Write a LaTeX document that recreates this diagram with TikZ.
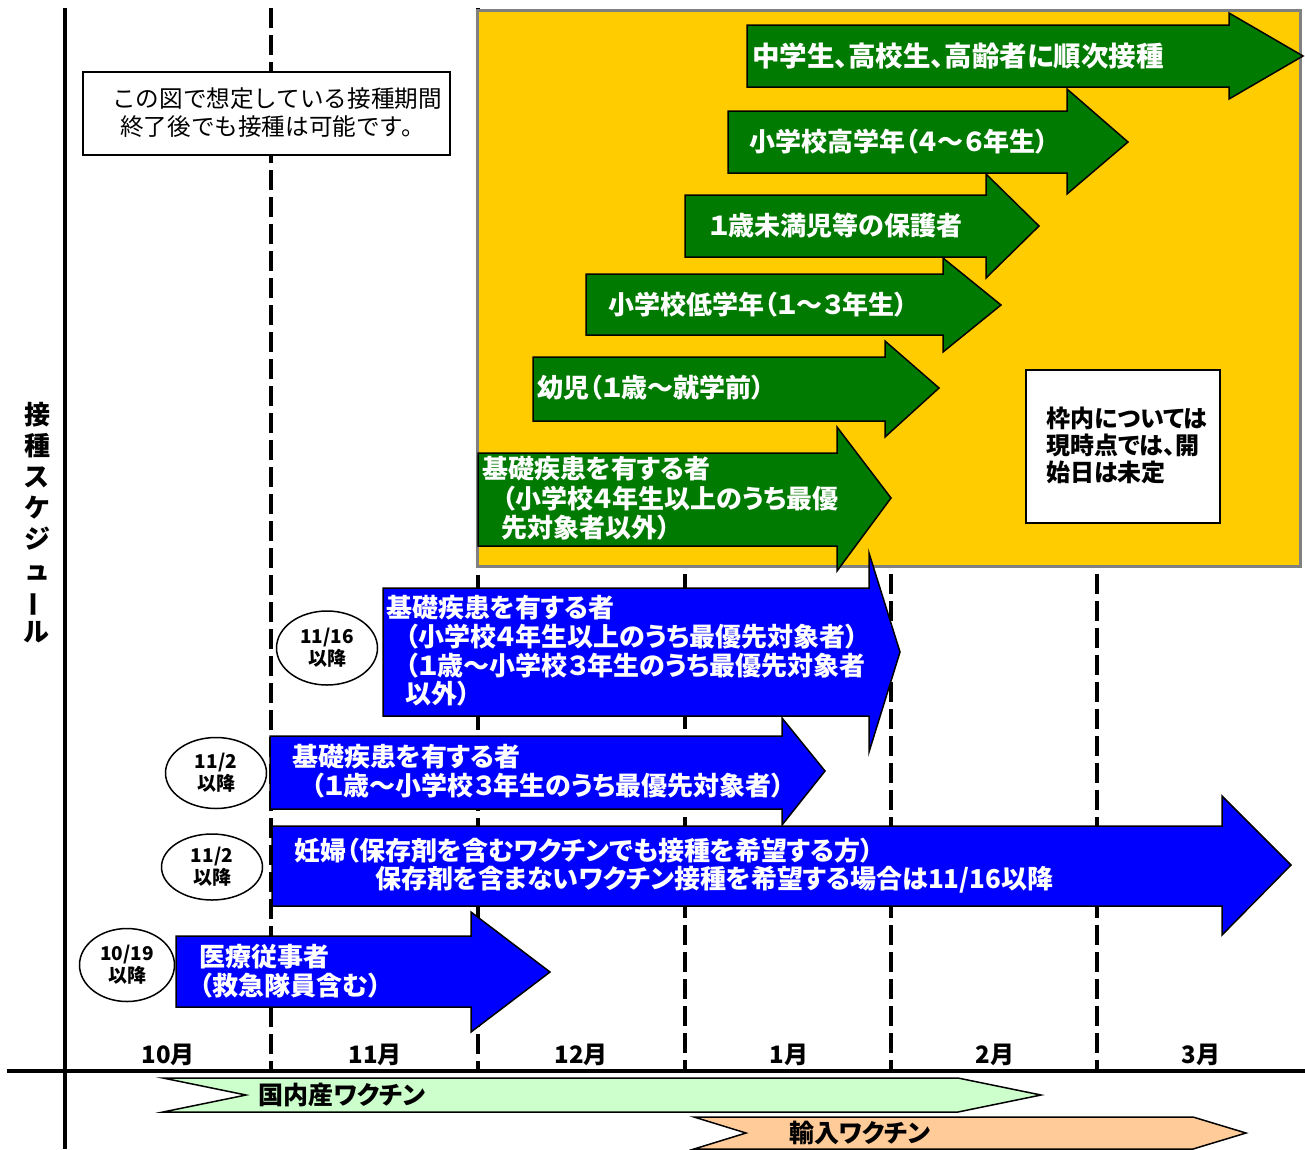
\documentclass[tikz,border=0pt]{standalone}
\usepackage{fontspec}
\usetikzlibrary{shapes.geometric}
\newfontfamily\jp[RawFeature=+palt]{Noto Sans CJK JP}
\newfontfamily\jpm{Noto Sans CJK JP}
\definecolor{agreen}{RGB}{0,122,0}
\definecolor{ablue}{RGB}{0,0,255}
\definecolor{ayellow}{RGB}{255,204,0}
\definecolor{lgreen}{RGB}{204,255,204}
\definecolor{lorange}{RGB}{255,204,153}
\definecolor{bordergray}{RGB}{128,128,128}
\tikzset{
  garrow/.style={fill=agreen, draw=black, line width=1.5pt},
  barrow/.style={fill=ablue, draw=black, line width=1.5pt},
  wtxt/.style={text=white, font=\jp\bfseries\fontsize{26}{30}\selectfont, anchor=west, inner sep=0pt},
  ktxt/.style={text=black, font=\jp\bfseries\fontsize{24}{28}\selectfont, anchor=west, inner sep=0pt},
  month/.style={text=black, font=\jp\bfseries\fontsize{24}{28}\selectfont, inner sep=0pt},
  datebub/.style={ellipse, draw=black, fill=white, line width=1.5pt, inner sep=0pt, align=center,
     font=\jp\bfseries\fontsize{19}{22}\selectfont},
  vline/.style={line width=4pt, dash pattern=on 20pt off 7pt},
  axis/.style={line width=4pt},
  banner/.style={draw=black, line width=1.5pt},
}
\begin{document}
\begin{tikzpicture}[x=1pt,y=-1pt]
\useasboundingbox (0,0) rectangle (1305,1149);
% axes
\coordinate (vtop) at (65,8);
\coordinate (vbot) at (65,1149);
\coordinate (hl) at (7,1071);
\coordinate (hr) at (1305,1071);
\draw[axis] (vtop) -- (vbot);
\draw[axis] (hl) -- (hr);
% dashed month separators
\foreach \n/\x/\yt in {a/271/8, b/478/8, c/685/574, d/891/574, e/1097/574}{
  \coordinate (d\n t) at (\x,\yt);
  \coordinate (d\n b) at (\x,1071);
  \draw[vline] (d\n t) -- (d\n b);
}
% yellow frame
\draw[fill=ayellow, draw=bordergray, line width=3pt] (477,10) rectangle (1300,566);
% note box
\node[draw=black, fill=white, line width=1.2pt, minimum width=367pt, minimum height=83pt, inner sep=0pt] (note) at (266.5,113.5) {};
\node[anchor=west, inner sep=0pt, font=\jpm\fontsize{23.6}{28}\selectfont] (note1) at (112,99) {この図で想定している接種期間};
\node[anchor=west, inner sep=0pt, font=\jpm\fontsize{23.6}{28}\selectfont] (note2) at (120,127) {終了後でも接種は可能です。};
% green arrows
\draw[garrow] (747,25) -- (1229,25) -- (1229,13) -- (1303,56) -- (1229,99) -- (1229,87) -- (747,87) -- cycle;
\draw[garrow] (728,111) -- (1067,111) -- (1067,89) -- (1128,142) -- (1067,194) -- (1067,173) -- (728,173) -- cycle;
\draw[garrow] (685,195) -- (986,195) -- (986,174) -- (1039,226) -- (986,278) -- (986,257) -- (685,257) -- cycle;
\draw[garrow] (586,274) -- (943,274) -- (943,258) -- (1001,305) -- (943,352) -- (943,335) -- (586,335) -- cycle;
\draw[garrow] (533,357) -- (885,357) -- (885,341) -- (939,388) -- (885,437) -- (885,421) -- (533,421) -- cycle;
\draw[garrow] (478,453) -- (837,453) -- (837,427) -- (891,498) -- (837,571) -- (837,546) -- (478,546) -- cycle;
\node[wtxt, font=\jp\bfseries\fontsize{27.5}{30}\selectfont] (g1) at (752,56) {中学生、高校生、高齢者に順次接種};
\node[wtxt] (g2) at (749,142) {小学校高学年（４～６年生）};
\node[wtxt] (g3) at (709,226) {１歳未満児等の保護者};
\node[wtxt] (g4) at (608,305) {小学校低学年（１～３年生）};
\node[wtxt] (g5) at (537,388) {幼児（１歳～就学前）};
\node[wtxt] (g6a) at (482,469) {基礎疾患を有する者};
\node[wtxt] (g6b) at (502,499) {（小学校４年生以上のうち最優};
\node[wtxt] (g6c) at (501,528) {先対象者以外）};
% undecided note
\node[draw=black, fill=white, line width=1.2pt, minimum width=194pt, minimum height=153pt, inner sep=0pt] (undec) at (1123,446.5) {};
\node[ktxt] (u1) at (1046,418) {枠内については};
\node[ktxt] (u2) at (1046,445) {現時点では、開};
\node[ktxt] (u3) at (1046,472) {始日は未定};
% blue arrows
\draw[barrow] (383,588) -- (869,588) -- (869,553) -- (900,652) -- (869,752) -- (869,716) -- (383,716) -- cycle;
\draw[barrow] (270,736) -- (782,736) -- (782,718) -- (825,771) -- (782,825) -- (782,809) -- (270,809) -- cycle;
\draw[barrow] (272,826) -- (1222,826) -- (1222,796) -- (1291,865) -- (1222,935) -- (1222,906) -- (272,906) -- cycle;
\draw[barrow] (176,936) -- (471,936) -- (471,912) -- (550,972) -- (471,1032) -- (471,1007) -- (176,1007) -- cycle;
\node[wtxt] (b1a) at (386,608) {基礎疾患を有する者};
\node[wtxt] (b1b) at (405,637) {（小学校４年生以上のうち最優先対象者）};
\node[wtxt] (b1c) at (405,666) {（１歳～小学校３年生のうち最優先対象者};
\node[wtxt] (b1d) at (405,694) {以外）};
\node[wtxt] (b2a) at (292,757) {基礎疾患を有する者};
\node[wtxt] (b2b) at (311,786) {（１歳～小学校３年生のうち最優先対象者）};
\node[wtxt] (b3a) at (294,851) {妊婦（保存剤を含むワクチンでも接種を希望する方）};
\node[wtxt] (b3b) at (375,880) {保存剤を含まないワクチン接種を希望する場合は11/16以降};
\node[wtxt] (b4a) at (199,957) {医療従事者};
\node[wtxt] (b4b) at (199,986) {（救急隊員含む）};
% date bubbles
\node[datebub, minimum width=101pt, minimum height=74pt] (e1) at (327,648) {11/16\\以降};
\node[datebub, minimum width=101pt, minimum height=71pt] (e2) at (216,773) {11/2\\以降};
\node[datebub, minimum width=101pt, minimum height=66pt] (e3) at (212,867) {11/2\\以降};
\node[datebub, minimum width=95pt, minimum height=73pt] (e4) at (127,965) {10/19\\以降};
% months
\node[month] (m10) at (168,1055) {10月};
\node[month] (m11) at (375,1055) {11月};
\node[month] (m12) at (581,1055) {12月};
\node[month] (m1) at (789,1055) {1月};
\node[month] (m2) at (995,1055) {2月};
\node[month] (m3) at (1201,1055) {3月};
% vertical title
\node[align=center, inner sep=0pt, font=\jp\bfseries\fontsize{26}{31}\selectfont] (title) at (37,523)
  {接\\種\\ス\\ケ\\ジ\\ュ\\\rotatebox[origin=c]{90}{ー}\\ル};
% vaccine supply banners
\draw[banner, fill=lgreen] (163,1078) -- (958,1078) -- (1041,1095) -- (958,1112) -- (163,1112) -- (246,1095) -- cycle;
\node[month, font=\jp\bfseries\fontsize{25}{28}\selectfont] (dom) at (342,1095) {国内産ワクチン};
\draw[banner, fill=lorange] (694,1117) -- (1193,1117) -- (1246,1133) -- (1193,1149) -- (694,1149) -- (746,1133) -- cycle;
\node[month, font=\jp\bfseries\fontsize{25}{28}\selectfont] (imp) at (860,1133) {輸入ワクチン};
\end{tikzpicture}
\end{document}
